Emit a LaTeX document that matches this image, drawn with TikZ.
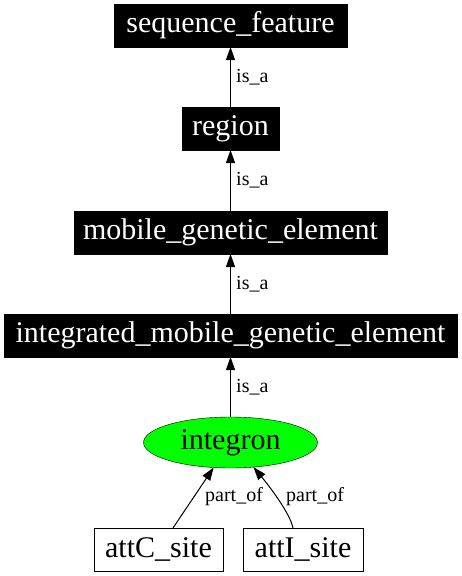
\documentclass[tikz,border=0pt]{standalone}
\usepackage{fontspec}
\setmainfont{Liberation Serif}
\usetikzlibrary{arrows.meta,calc,shapes.geometric}
\tikzset{
  blackbox/.style={rectangle,fill=black,draw=black,text=white,inner sep=0pt,outer sep=0pt,
    minimum height=43pt,font=\fontsize{30}{34}\selectfont},
  whitebox/.style={rectangle,fill=white,draw=black,text=black,inner sep=0pt,outer sep=0pt,
    minimum height=43pt,font=\fontsize{30}{34}\selectfont},
  greenell/.style={ellipse,fill=green,draw=black,inner sep=0pt,outer sep=0pt,
    minimum width=174pt,minimum height=51pt,font=\fontsize{30}{34}\selectfont},
  edge/.style={draw=black,line width=1pt,-{Triangle[length=13pt,width=9pt]}},
  elabel/.style={anchor=west,inner sep=0pt,font=\fontsize{20}{24}\selectfont}
}
\begin{document}
\begin{tikzpicture}[x=1pt,y=-1pt]
\useasboundingbox (0,0) rectangle (461,576);
\node[blackbox,minimum width=233pt] (sf) at (230.5,25.5) {sequence\_feature};
\node[blackbox,minimum width=97pt] (region) at (230.5,128.5) {region};
\node[blackbox,minimum width=313pt] (mge) at (230.5,232.5) {mobile\_genetic\_element};
\node[blackbox,minimum width=453pt] (imge) at (230.5,335.5) {integrated\_mobile\_genetic\_element};
\node[greenell] (integron) at (230.5,442.5) {integron};
\node[whitebox,minimum width=129pt] (attC) at (158.5,549.5) {attC\_site};
\node[whitebox,minimum width=120pt] (attI) at (303,549.5) {attI\_site};

\draw[edge] (region) -- (sf);
\draw[edge] (mge) -- (region);
\draw[edge] (imge) -- (mge);
\draw[edge] (integron) -- (imge);

\node[elabel] (l1) at ($($(sf.south)!0.5!(region.north)$)+(5.5,0)$) {is\_a};
\node[elabel] (l2) at ($($(region.south)!0.5!(mge.north)$)+(5.5,0)$) {is\_a};
\node[elabel] (l3) at ($($(mge.south)!0.5!(imge.north)$)+(5.5,0)$) {is\_a};
\node[elabel] (l4) at ($($(imge.south)!0.5!(integron.north)$)+(5.5,0)$) {is\_a};

\coordinate (cS) at ($(attC.north)+(14.5,0)$);
\coordinate (iS) at ($(attI.north)+(-10,0)$);
\draw[edge] (cS) -- (integron.236);
\draw[edge] (iS) .. controls ($(iS)+(-3,-15)$) and ($(integron.313)+(15,18)$) .. (integron.313);

\node[elabel] (l5) at (205,497) {part\_of};
\node[elabel] (l6) at (286,497) {part\_of};
\end{tikzpicture}
\end{document}
